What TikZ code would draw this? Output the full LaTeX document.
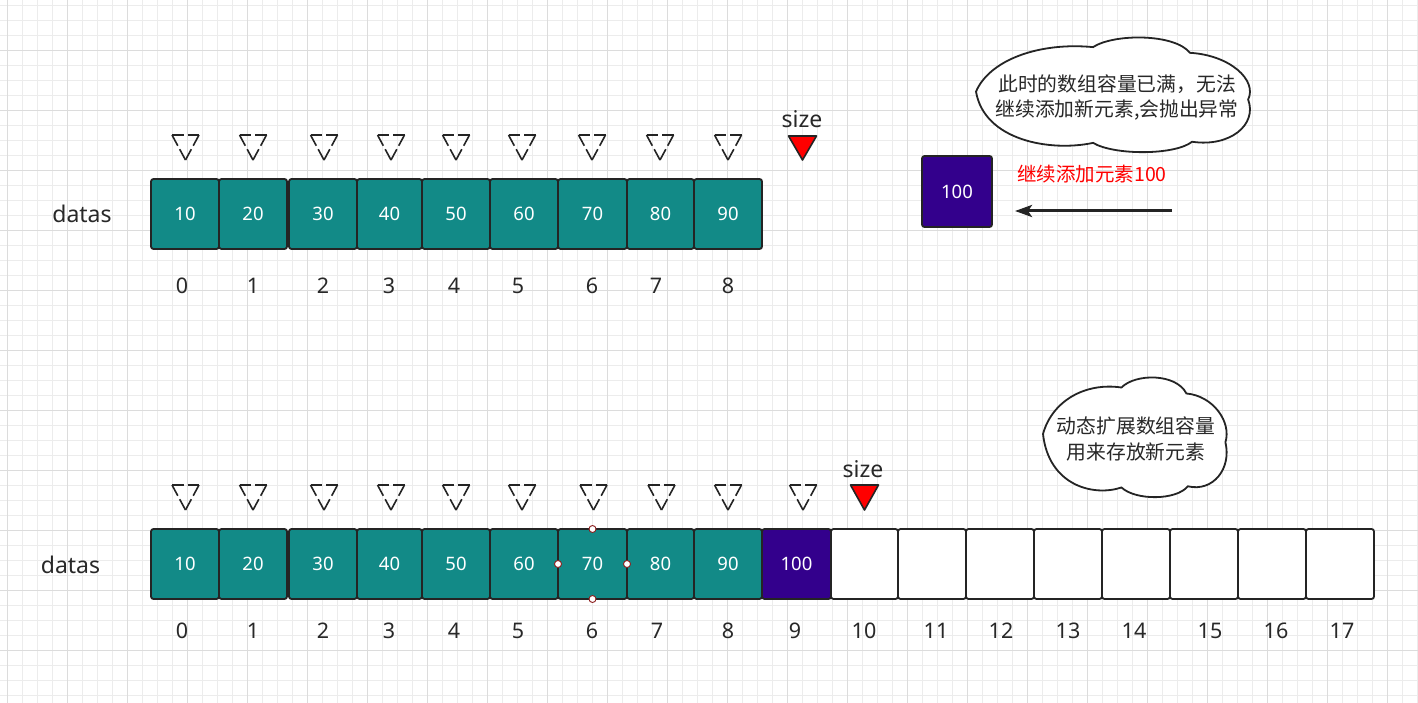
\documentclass[tikz,border=0pt]{standalone}
\usepackage{fontspec}
\setmainfont{Noto Sans}
\newfontfamily\cjk{Noto Sans CJK SC}
\usetikzlibrary{arrows.meta}
\definecolor{tealc}{RGB}{18,138,135}
\definecolor{purp}{RGB}{51,0,140}
\definecolor{edgec}{RGB}{36,36,36}
\definecolor{gridminor}{RGB}{236,236,236}
\definecolor{gridmajor}{RGB}{220,220,220}
\definecolor{txt}{RGB}{40,40,40}
\definecolor{handlec}{RGB}{140,30,30}
\begin{document}
\begin{tikzpicture}[x=1pt,y=-1pt,
  cell/.style={draw=edgec, line width=1.8pt, rounded corners=2.5pt, inner sep=0pt, outer sep=0pt,
    minimum height=70pt, text=white, font=\fontsize{18.5}{20}\selectfont},
  idx/.style={text=txt, font=\fontsize{21.5}{24}\selectfont, inner sep=0pt},
  lbl/.style={text=txt, font=\fontsize{23}{26}\selectfont, inner sep=0pt},
  dtop/.style={draw=edgec, line width=1.6pt, dash pattern=on 11.5pt off 4pt, line cap=butt},
  dside/.style={draw=edgec, line width=1.6pt, dash pattern=on 12.2pt off 4pt, line cap=butt},
  rtri/.style={draw=edgec, fill=red, line width=1.6pt, line join=round},
  cloudline/.style={draw=edgec, fill=white, line width=1.8pt},
  cloudtext/.style={text=txt, align=center, font=\cjk\fontsize{19.8}{25.5}\selectfont, inner sep=0pt},
  handlestyle/.style={circle, draw=handlec, fill=white, line width=0.9pt, minimum size=7pt, inner sep=0pt},
  gminor/.style={draw=gridminor, line width=0.8pt},
  gmajor/.style={draw=gridmajor, line width=0.8pt}
]
\useasboundingbox (0,0) rectangle (1418,703);
\fill[white] (0,0) rectangle (1418,703);
% grid
\foreach \k in {0,...,94} \draw[gminor] ({7.3+15*\k},0) -- ({7.3+15*\k},703);
\foreach \k in {0,...,46} \draw[gminor] (0,{5+15*\k}) -- (1418,{5+15*\k});
\foreach \k in {0,...,23} \draw[gmajor] ({7.3+60*\k},0) -- ({7.3+60*\k},703);
\foreach \k in {0,...,10} \draw[gmajor] (0,{50+60*\k}) -- (1418,{50+60*\k});

% ---------- top row ----------
\node[lbl] (datas1) at (82,214) {datas};
\foreach \l/\r/\v [count=\i from 0] in {151/219/10,219/287/20,289/357/30,357/422/40,422/490/50,490/558/60,558/627/70,627/694/80,694/762/90}
  \node[cell, fill=tealc, minimum width={\r-\l}] (t\i) at ({(\l+\r)/2},214) {\v};
\foreach \x/\n in {182/0,253/1,323/2,389/3,454/4,518/5,592/6,656/7,728/8}
  \node[idx] (ti\n) at (\x,286) {\n};
\foreach \x in {185.5,253,324,391,456,522,592,660,728}{
  \draw[dtop] (\x-13.5,135) -- (\x+13.5,135);
  \draw[dside] (\x-13.5,135) -- (\x,160);
  \draw[dside] (\x+13.5,135) -- (\x,160);
}
\draw[rtri] (788.5,136) -- (816.5,136) -- (802.5,160) -- cycle;
\node[lbl] (size1) at (802,119) {size};

% new element and arrow
\node[cell, fill=purp, minimum width=70pt, minimum height=71pt] (nb) at (957,191.5) {100};
\node[text=red, font=\cjk\fontsize{19.5}{22}\selectfont, inner sep=0pt] (addlbl) at (1092,174) {继续添加元素100};
\coordinate (as) at (1172,211);
\coordinate (ae) at (1015,211);
\draw[edgec, line width=3pt, -{Stealth[length=17pt,width=12pt,inset=4pt]}] (as) -- (ae);

% top cloud
\begin{scope}[shift={(976pt,-38pt)}, x=276pt, y=-114pt]
\draw[cloudline] (0,0.47) .. controls (0.05,0.19) and (0.23,0.035) .. (0.424,0.08)
  .. controls (0.50,-0.04) and (0.72,-0.04) .. (0.775,0.13)
  .. controls (0.92,0.15) and (1.02,0.37) .. (0.986,0.54)
  .. controls (1.02,0.76) and (0.92,0.96) .. (0.783,0.91)
  .. controls (0.72,1.03) and (0.50,1.03) .. (0.424,0.92)
  .. controls (0.27,1.0) and (0.03,0.9) .. (0,0.47) -- cycle;
\end{scope}
\node[cloudtext] (cloud1) at (1117,97.5) {此时的数组容量已满，无法\\继续添加新元素,会抛出异常};

% ---------- bottom row ----------
\node[lbl] (datas2) at (70.5,565) {datas};
\foreach \l/\r/\v [count=\i from 0] in {151/219/10,219/287/20,289/357/30,357/422/40,422/490/50,490/558/60,558/627/70,627/694/80,694/762/90}
  \node[cell, fill=tealc, minimum width={\r-\l}] (b\i) at ({(\l+\r)/2},564) {\v};
\node[cell, fill=purp, minimum width=69pt] (b9) at (796.5,564) {100};
\foreach \l/\r [count=\i from 10] in {831/898,898/966,966/1034,1034/1102,1102/1170,1170/1238,1238/1306,1306/1374}
  \node[cell, fill=white, minimum width={\r-\l}] (b\i) at ({(\l+\r)/2},564) {};
\foreach \x/\n in {182/0,253/1,323/2,389/3,454/4,518/5,592/6,657/7,728/8,795/9,864/10,936/11,1001/12,1068/13,1134/14,1210/15,1276/16,1342/17}
  \node[idx] (bi\n) at (\x,631) {\n};
\foreach \x in {185.5,253,324,391,456,522,593.5,661.5,728,803}{
  \draw[dtop] (\x-13.5,485) -- (\x+13.5,485);
  \draw[dside] (\x-13.5,485) -- (\x,510);
  \draw[dside] (\x+13.5,485) -- (\x,510);
}
\draw[rtri] (850.5,485) -- (878.5,485) -- (864.5,510) -- cycle;
\node[lbl] (size2) at (863,469) {size};

% selection handles on cell 70
\node[handlestyle] (h1) at (b6.north) {};
\node[handlestyle] (h2) at (b6.south) {};
\node[handlestyle] (h3) at (b6.west) {};
\node[handlestyle] (h4) at (b6.east) {};

% bottom cloud
\begin{scope}[shift={(1043pt,-378pt)}, x=185pt, y=-119pt]
\draw[cloudline] (0,0.47) .. controls (0.05,0.19) and (0.23,0.035) .. (0.424,0.08)
  .. controls (0.50,-0.04) and (0.72,-0.04) .. (0.775,0.13)
  .. controls (0.92,0.15) and (1.02,0.37) .. (0.986,0.54)
  .. controls (1.02,0.76) and (0.92,0.96) .. (0.783,0.91)
  .. controls (0.72,1.03) and (0.50,1.03) .. (0.424,0.92)
  .. controls (0.27,1.0) and (0.03,0.9) .. (0,0.47) -- cycle;
\end{scope}
\node[cloudtext] (cloud2) at (1136,439) {动态扩展数组容量\\用来存放新元素};
\end{tikzpicture}
\end{document}
